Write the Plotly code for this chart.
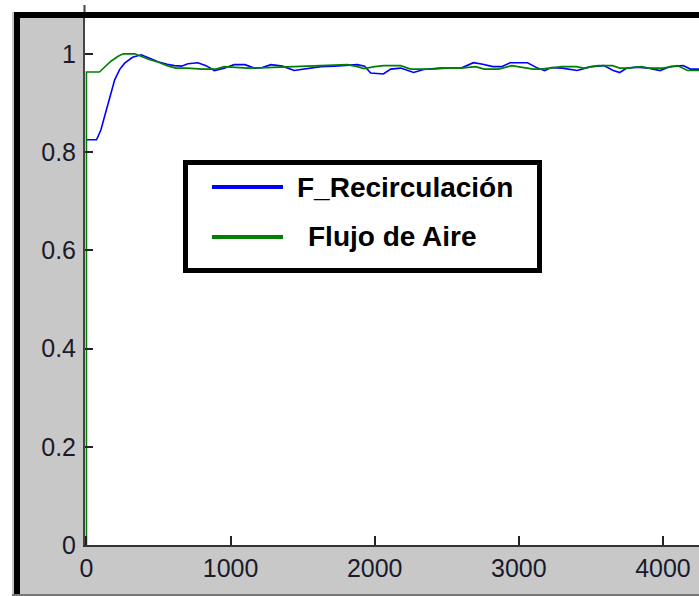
import plotly.graph_objects as go

# ---- data ----
t_recirc = [0, 70, 100, 138, 170, 196, 230, 265, 320, 380,
            430, 496, 560, 610, 660, 704, 773, 830, 887, 950,
            1025, 1100, 1163, 1220, 1280, 1360, 1441, 1530, 1626, 1720,
            1811, 1880, 1930, 1972, 2060, 2111, 2180, 2270, 2340, 2450,
            2600, 2685, 2750, 2820, 2880, 2940, 3060, 3130, 3180, 3225,
            3300, 3405, 3500, 3590, 3655, 3700, 3750, 3820, 3900, 3980,
            4050, 4140, 4190, 4250]
f_recirc = [0.825, 0.825, 0.845, 0.886, 0.92, 0.947, 0.968, 0.981, 0.993, 0.998,
            0.992, 0.984, 0.979, 0.976, 0.975, 0.980, 0.982, 0.976, 0.966, 0.970,
            0.978, 0.978, 0.971, 0.972, 0.978, 0.975, 0.966, 0.970, 0.974, 0.975,
            0.976, 0.978, 0.975, 0.961, 0.959, 0.969, 0.971, 0.962, 0.968, 0.971,
            0.971, 0.982, 0.979, 0.974, 0.974, 0.982, 0.982, 0.971, 0.966, 0.972,
            0.971, 0.966, 0.974, 0.976, 0.966, 0.962, 0.971, 0.973, 0.971, 0.966,
            0.974, 0.976, 0.969, 0.969]

t_aire = [0, 0, 90, 130, 170, 220, 255, 335, 380, 430,
          500, 560, 620, 700, 800, 900, 955, 1050, 1119, 1250,
          1441, 1600, 1811, 1880, 1926, 2000, 2065, 2180, 2250, 2400,
          2500, 2600, 2700, 2760, 2860, 2950, 3100, 3150, 3300, 3400,
          3450, 3550, 3650, 3700, 3760, 3850, 3900, 4000, 4100, 4170,
          4250]
f_aire = [0, 0.963, 0.963, 0.975, 0.985, 0.995, 1.0, 1.0, 0.995, 0.989,
          0.983, 0.976, 0.971, 0.971, 0.969, 0.969, 0.974, 0.972, 0.971, 0.972,
          0.974, 0.975, 0.978, 0.974, 0.970, 0.974, 0.976, 0.976, 0.969, 0.969,
          0.971, 0.971, 0.974, 0.969, 0.969, 0.976, 0.969, 0.969, 0.974, 0.974,
          0.971, 0.976, 0.976, 0.971, 0.971, 0.974, 0.971, 0.971, 0.976, 0.966,
          0.966]

x_ticks = [0, 1000, 2000, 3000, 4000]
x_ticklabels = ["0", "1000", "2000", "3000", "4000"]
y_ticks = [0, 0.2, 0.4, 0.6, 0.8, 1.0]
y_ticklabels = ["0", "0.2", "0.4", "0.6", "0.8", "1"]
legend_names = ["F_Recirculación", "Flujo de Aire"]
colors = ["#0000ff", "#008000"]

# ---- layout geometry (pixels) ----
W, H = 699, 596
ML, MR, MT, MB = 85, 0, 18, 51
PW, PH = W - ML - MR, H - MT - MB


def X(px):
    return (px - ML) / PW


def Y(py):
    return (H - MB - py) / PH


fig = go.Figure()
fig.add_trace(go.Scatter(x=t_recirc, y=f_recirc, mode="lines", name=legend_names[0],
                         line=dict(color=colors[0], width=1.6), showlegend=False))
fig.add_trace(go.Scatter(x=t_aire, y=f_aire, mode="lines", name=legend_names[1],
                         line=dict(color=colors[1], width=1.6), showlegend=False))

font_fam = "Liberation Sans, Arial, sans-serif"

shapes = [
    # white margins at top-left
    dict(type="rect", xref="paper", yref="paper", x0=X(0), x1=X(12), y0=Y(H), y1=Y(0),
         fillcolor="white", line=dict(width=0), layer="above"),
    dict(type="rect", xref="paper", yref="paper", x0=X(0), x1=X(W), y0=Y(12), y1=Y(0),
         fillcolor="white", line=dict(width=0), layer="above"),
    # black frame bars
    dict(type="rect", xref="paper", yref="paper", x0=X(14), x1=X(20), y0=Y(595), y1=Y(12),
         fillcolor="black", line=dict(width=0), layer="above"),
    dict(type="rect", xref="paper", yref="paper", x0=X(14), x1=X(W), y0=Y(18), y1=Y(12),
         fillcolor="black", line=dict(width=0), layer="above"),
    # bottom edge
    dict(type="rect", xref="paper", yref="paper", x0=X(12), x1=X(W), y0=Y(596), y1=Y(594),
         fillcolor="#777777", line=dict(width=0), layer="above"),
    # axis line stub above frame
    dict(type="line", xref="paper", yref="paper", x0=X(84.5), x1=X(84.5), y0=Y(12), y1=Y(5),
         line=dict(color="#444444", width=2), layer="above"),
    # legend box
    dict(type="rect", xref="paper", yref="paper", x0=X(185.5), x1=X(539.5), y0=Y(270.5), y1=Y(162.5),
         fillcolor="white", line=dict(color="black", width=5), layer="above"),
    dict(type="line", xref="paper", yref="paper", x0=X(212), x1=X(283), y0=Y(187), y1=Y(187),
         line=dict(color=colors[0], width=4), layer="above"),
    dict(type="line", xref="paper", yref="paper", x0=X(212), x1=X(283), y0=Y(237), y1=Y(237),
         line=dict(color=colors[1], width=4), layer="above"),
]

annotations = [
    dict(xref="paper", yref="paper", x=X(295), y=Y(187), text="<b>" + legend_names[0] + "</b>",
         showarrow=False, xanchor="left", yanchor="middle",
         font=dict(family=font_fam, size=28, color="black")),
    dict(xref="paper", yref="paper", x=X(306), y=Y(237), text="<b>" + legend_names[1] + "</b>",
         showarrow=False, xanchor="left", yanchor="middle",
         font=dict(family=font_fam, size=28, color="black")),
]

fig.update_layout(
    width=W, height=H,
    margin=dict(l=ML, r=MR, t=MT, b=MB, pad=0),
    paper_bgcolor="#c8c8c8",
    plot_bgcolor="white",
    showlegend=False,
    shapes=shapes,
    annotations=annotations,
    font=dict(family=font_fam, color="#1a1a2a"),
)
fig.update_xaxes(range=[-10, 4250], tickvals=x_ticks, ticktext=x_ticklabels,
                 ticks="inside", ticklen=9, tickwidth=1.5, tickcolor="#222222",
                 showline=True, linecolor="#333333", linewidth=2,
                 showgrid=False, zeroline=False,
                 tickfont=dict(size=25, family=font_fam, color="#1a1a2a"),
                 ticklabelstandoff=0)
fig.update_yaxes(range=[0, 1.073], tickvals=y_ticks, ticktext=y_ticklabels,
                 ticks="inside", ticklen=8, tickwidth=1.5, tickcolor="#222222",
                 showline=True, linecolor="#444444", linewidth=2,
                 showgrid=False, zeroline=False,
                 tickfont=dict(size=25, family=font_fam, color="#1a1a2a"),
                 ticklabelstandoff=2)

fig.write_html("out.html")
